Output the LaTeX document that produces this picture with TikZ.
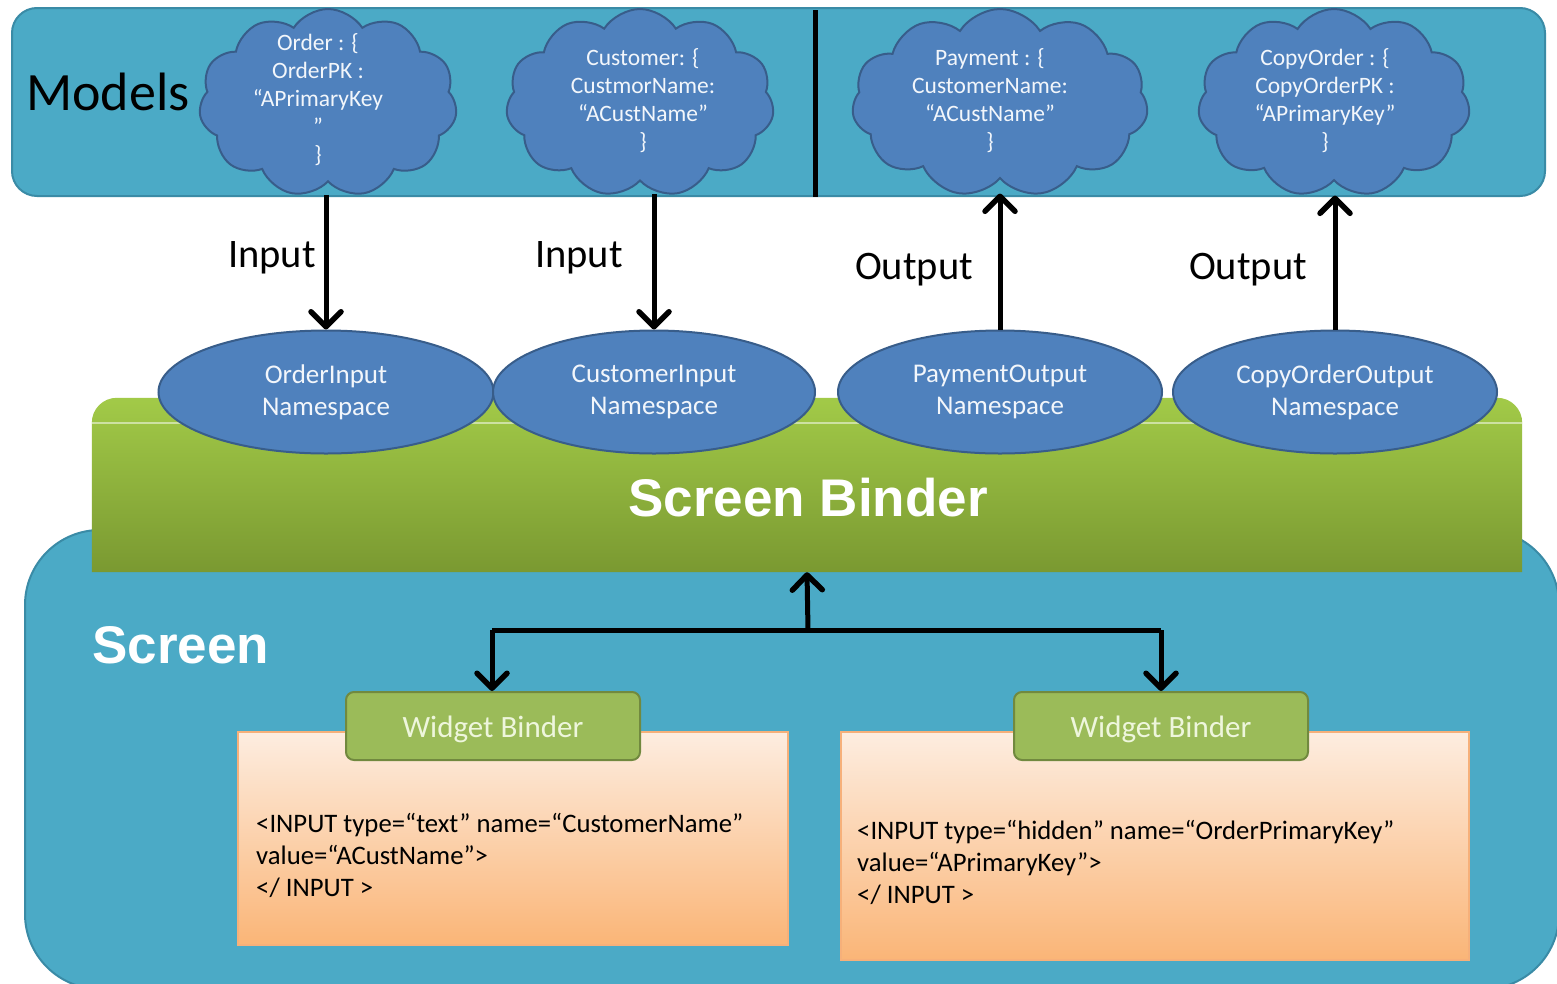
\documentclass[tikz,border=0pt]{standalone}
\usepackage{fontspec}
\setmainfont{Carlito}
\newfontfamily\arialfont{Liberation Sans}
\usetikzlibrary{shapes.symbols,shapes.geometric,arrows.meta}
\definecolor{tealfill}{HTML}{4BAAC6}
\definecolor{tealborder}{HTML}{3A8BA6}
\definecolor{bluefill}{HTML}{4F81BD}
\definecolor{blueborder}{HTML}{385D8A}
\definecolor{sbtop}{HTML}{A2CA48}
\definecolor{sbbot}{HTML}{7A9931}
\definecolor{wbfill}{HTML}{9BBB59}
\definecolor{wbborder}{HTML}{71893F}
\definecolor{wbtext}{HTML}{EEF6DC}
\definecolor{codetop}{HTML}{FDEDE0}
\definecolor{codebot}{HTML}{FAB577}
\definecolor{codeborder}{HTML}{F6B07A}
\definecolor{lighttext}{HTML}{F2F6FB}
\begin{document}
\begin{tikzpicture}[x=1pt,y=-1pt,
  modelbox/.style={draw=tealborder, line width=2pt, fill=tealfill, rounded corners=25pt, minimum width=1533pt, minimum height=188pt, inner sep=0pt},
  cloudsty/.style={cloud, cloud puffs=11, cloud puff arc=115, draw=blueborder, line width=2pt, fill=bluefill, minimum height=188pt, inner sep=0pt},
  cloudtxt/.style={text=lighttext, font=\fontsize{23.5}{28}\selectfont, align=center, inner sep=0pt},
  nsell/.style={ellipse, draw=blueborder, line width=2pt, fill=bluefill, minimum height=123pt, text=lighttext, font=\fontsize{27}{32}\selectfont, align=center, inner sep=0pt},
  flow/.style={line width=5pt, -{Straight Barb[length=15pt,width=30pt,line width=5.5pt,round]}},
  lbl/.style={font=\fontsize{40.5}{44}\selectfont, text=black, inner sep=0pt},
  bigwhite/.style={font=\arialfont\bfseries\fontsize{53}{60}\selectfont, text=white, inner sep=0pt},
  wbinder/.style={draw=wbborder, line width=2pt, fill=wbfill, rounded corners=8pt, minimum width=294pt, minimum height=68pt, inner sep=0pt},
  wbtxt/.style={text=wbtext, font=\fontsize{31}{36}\selectfont, inner sep=0pt},
  codebox/.style={draw=codeborder, line width=1.5pt, top color=codetop, bottom color=codebot, inner sep=0pt},
  codetxt/.style={font=\fontsize{26.7}{32}\selectfont, align=left, anchor=north west, text=black, inner sep=0pt}]
\useasboundingbox (0,0) rectangle (1557,983);
\fill[white] (0,0) rectangle (1557,983);

% Screen box
\begin{scope}
\clip (0,0) rectangle (1557,983);
\draw[fill=tealfill, draw=tealborder, line width=2pt, rounded corners=75pt] (25,530) rectangle (1559,989);
\end{scope}
\node[bigwhite, anchor=west] (screen) at (92,645) {Screen};

% Models box
\node[modelbox] (models) at (778.5,102) {};
\node[font=\fontsize{54}{58}\selectfont, anchor=west, inner sep=0pt] (modelstxt) at (26,92) {Models};
\draw[line width=5pt] (815,10) -- (815,197);

% Clouds
\node[cloudsty, minimum width=258pt] (c1) at (328,103) {};
\node[cloudsty, minimum width=268pt] (c2) at (640,103) {};
\node[cloudsty, minimum width=296pt] (c3) at (1000,103) {};
\node[cloudsty, minimum width=272pt] (c4) at (1334,103) {};
\node[cloudtxt] (t1) at (318,100) {Order : \{\\OrderPK :\\“APrimaryKey\\”\\\}};
\node[cloudtxt] (t2) at (643,101) {Customer: \{\\CustmorName:\\“ACustName”\\\}};
\node[cloudtxt] (t3) at (990,101) {Payment : \{\\CustomerName:\\“ACustName”\\\}};
\node[cloudtxt] (t4) at (1325,101) {CopyOrder : \{\\CopyOrderPK :\\“APrimaryKey”\\\}};
\coordinate (c1b) at ([yshift=-12pt]c1.south);
\coordinate (c2b) at ([yshift=-12pt]c2.south);
\coordinate (c3b) at ([yshift=-14pt]c3.south);
\coordinate (c4b) at ([yshift=-14pt]c4.south);

% Screen Binder
\node[minimum width=1430pt, minimum height=174pt, inner sep=0pt] (sb) at (807,485) {};
\shade[top color=sbtop, bottom color=sbbot] (sb.south west) [rounded corners=25pt] -- (sb.north west) -- (sb.north east) [sharp corners] -- (sb.south east) -- cycle;
\draw[white, opacity=0.5, line width=1.5pt] ([yshift=-25pt]sb.north west) -- ([yshift=-25pt]sb.north east);
\node[bigwhite] (sbtxt) at (808,498) {Screen Binder};

% Namespaces
\node[nsell, minimum width=335pt] (e1) at (326,392) {OrderInput\\Namespace};
\node[nsell, minimum width=322pt] (e2) at (654,392) {CustomerInput\\Namespace};
\node[nsell, minimum width=324pt] (e3) at (1000,392) {PaymentOutput\\Namespace};
\node[nsell, minimum width=324pt] (e4) at (1335,392) {CopyOrderOutput\\Namespace};

% Model arrows
\draw[flow] (e1.north |- c1b) -- (e1.north);
\draw[flow] (e2.north |- c2b) -- (e2.north);
\draw[flow] (e3.north) -- (e3.north |- c3b);
\draw[flow] (e4.north) -- (e4.north |- c4b);
\node[lbl] (l1) at (272,258) {Input};
\node[lbl] (l2) at (579,258) {Input};
\node[lbl] (l3) at (914,270) {Output};
\node[lbl] (l4) at (1248,270) {Output};

% Code boxes
\node[codebox, minimum width=550pt, minimum height=213pt] (cb1) at (513,838.5) {};
\node[codebox, minimum width=628pt, minimum height=228pt] (cb2) at (1155,846) {};
\node[codetxt] (ct1) at (256,813) {<INPUT type=“text” name=“CustomerName”\\value=“ACustName”>\\</ INPUT >};
\node[codetxt] (ct2) at (857,820) {<INPUT type=“hidden” name=“OrderPrimaryKey”\\value=“APrimaryKey”>\\</ INPUT >};

% Widget binders
\node[wbinder] (wb1) at (493,726) {};
\node[wbinder] (wb2) at (1161,726) {};
\node[wbtxt] (wt1) at (493,729) {Widget Binder};
\node[wbtxt] (wt2) at (1161,729) {Widget Binder};

% Screen arrows
\coordinate (j) at (808,630);
\coordinate (jl) at (492,630);
\coordinate (jr) at (1161,630);
\draw[line width=5pt] (jl) -- (jr);
\draw[flow] (j) -- (sb.south);
\draw[flow] (jl) -- (jl |- wb1.north);
\draw[flow] (jr) -- (jr |- wb2.north);
\end{tikzpicture}
\end{document}
